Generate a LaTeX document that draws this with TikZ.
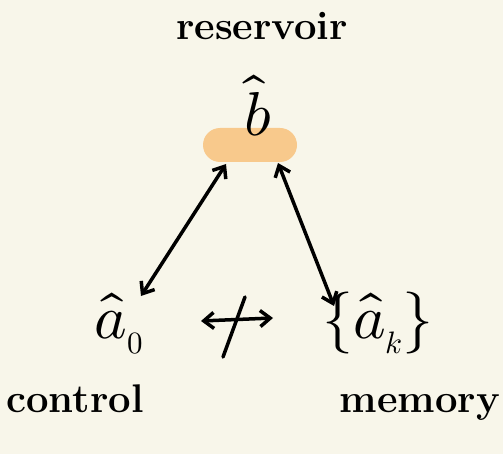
\documentclass[tikz,border=0pt]{standalone}
\usepackage{unicode-math}
\setmathfont{Latin Modern Math}
\usetikzlibrary{arrows.meta}
\definecolor{bgc}{HTML}{F8F6EA}
\definecolor{pill}{HTML}{F8C98C}
\tikzset{
  hand/.style={line width=3.5pt, line cap=round, line join=round, black},
  barb/.style={},
  twohead/.style={hand, {Straight Barb[length=10pt,width=16pt,line width=3.5pt]}-{Straight Barb[length=10pt,width=16pt,line width=3.5pt]}},
  lbl/.style={inner sep=0pt, anchor=base, font=\fontsize{40}{40}\selectfont\bfseries},
  mathlbl/.style={inner sep=0pt, anchor=base, font=\fontsize{62}{62}\selectfont}
}
\begin{document}
\begin{tikzpicture}[x=1pt,y=-1pt]
  \fill[bgc] (0,0) rectangle (503,454);
  \useasboundingbox (0,0) rectangle (503,454);
  % reservoir pill
  \node[fill=pill, rounded corners=17pt, minimum width=94pt, minimum height=34pt, inner sep=0pt] (res) at (250,145) {};
  \node[mathlbl] (b) at (258,136) {$\hat{b}$};
  \node[lbl] (reslbl) at (262,40) {reservoir};
  % operators
  \node[mathlbl] (a0) at (119,338) {$\hat{a}_{\scriptscriptstyle 0}$};
  \node[mathlbl] (ak) at (378,338) {$\{\hat{a}_{\scriptscriptstyle k}\}$};
  \node[lbl] (ctrl) at (75,412) {control};
  \node[lbl] (mem) at (420,412) {memory};
  % connector endpoints
  \coordinate (resL) at (226,164);
  \coordinate (resR) at (278,163);
  \coordinate (a0top) at (141,296);
  \coordinate (aktop) at (334,306);
  \coordinate (crossL) at (201,321);
  \coordinate (crossR) at (273,318);
  \coordinate (slashT) at (245,297);
  \coordinate (slashB) at (223,357);
  \draw[twohead] (resL) -- (a0top);
  \draw[twohead] (resR) -- (aktop);
  \draw[twohead] (crossL) -- (crossR);
  \draw[hand] (slashT) -- (slashB);
\end{tikzpicture}
\end{document}
